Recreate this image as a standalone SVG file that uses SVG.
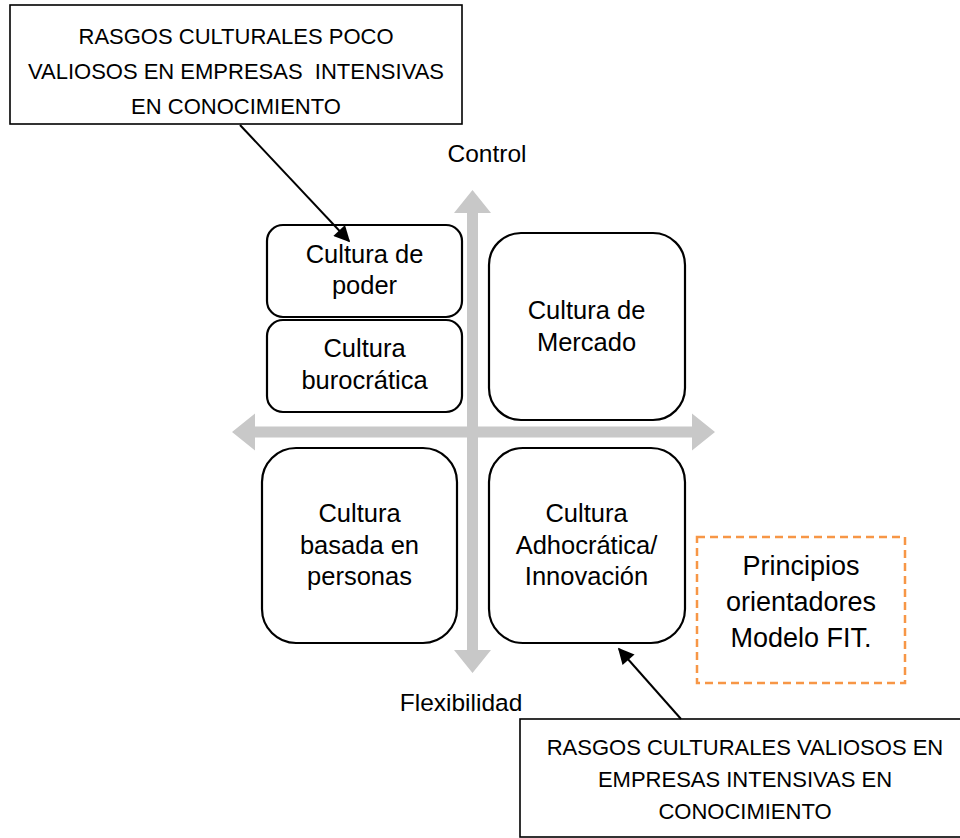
<svg xmlns="http://www.w3.org/2000/svg" width="960" height="838" viewBox="0 0 960 838">
  <style>
    text { font-family: "Liberation Sans", Arial, sans-serif; fill: #000; text-anchor: middle; }
    .caps { font-size: 22px; white-space: pre; }
    .q { font-size: 25.5px; }
    .axis { font-size: 24.5px; }
    .fit { font-size: 27px; }
    .note { fill: #fff; stroke: #000; stroke-width: 1.6; }
    .quad { fill: #fff; stroke: #000; stroke-width: 2.2; }
    .dashed { fill: #fff; stroke: #f79646; stroke-width: 2.5; stroke-dasharray: 8 5; }
    .axisbar { fill: #c8c8c8; }
    .link { stroke: #000; stroke-width: 2; fill: none; marker-end: url(#head); }
  </style>
  <defs>
    <marker id="head" viewBox="0 0 10 10" refX="9" refY="5" markerWidth="9" markerHeight="8" markerUnits="strokeWidth" orient="auto">
      <path d="M0,0 L10,5 L0,10 z" fill="#000"/>
    </marker>
  </defs>
  <rect width="960" height="838" fill="#fff"/>

  <!-- axes: control / flexibility -->
  <g id="axes">
    <polygon class="axisbar" points="472.5,190 491,213 478,213 478,650 491,650 472.5,673 454,650 467,650 467,213 454,213"/>
    <polygon class="axisbar" points="232,432 255,413.5 255,426.5 692,426.5 692,413.5 715,432 692,450.5 692,437.5 255,437.5 255,450.5"/>
    <text class="axis" x="487" y="162">Control</text>
    <text class="axis" x="461" y="711">Flexibilidad</text>
  </g>

  <g id="poder">
    <rect class="quad" x="267" y="225" width="195" height="92" rx="16"/>
    <text class="q" x="364.5" y="263">Cultura de</text>
    <text class="q" x="364.5" y="293.5">poder</text>
  </g>

  <g id="burocratica">
    <rect class="quad" x="267" y="320" width="195" height="92" rx="16"/>
    <text class="q" x="364.5" y="357">Cultura</text>
    <text class="q" x="364.5" y="388.5">burocrática</text>
  </g>

  <g id="mercado">
    <rect class="quad" x="489" y="233" width="196" height="187" rx="32"/>
    <text class="q" x="586.5" y="318.5">Cultura de</text>
    <text class="q" x="586.5" y="350.5">Mercado</text>
  </g>

  <g id="personas">
    <rect class="quad" x="262" y="448" width="195" height="195" rx="34"/>
    <text class="q" x="359.5" y="522">Cultura</text>
    <text class="q" x="359.5" y="553.5">basada en</text>
    <text class="q" x="359.5" y="585">personas</text>
  </g>

  <g id="adhocratica">
    <rect class="quad" x="489" y="448" width="196" height="195" rx="34"/>
    <text class="q" x="586.5" y="522">Cultura</text>
    <text class="q" x="586.5" y="553.5">Adhocrática/</text>
    <text class="q" x="586.5" y="585">Innovación</text>
  </g>

  <g id="principios">
    <rect class="dashed" x="697" y="537" width="208" height="146"/>
    <text class="fit" x="801" y="575">Principios</text>
    <text class="fit" x="801" y="611">orientadores</text>
    <text class="fit" x="801" y="647">Modelo FIT.</text>
  </g>

  <g id="rasgos-poco-valiosos">
    <rect class="note" x="10" y="5" width="452" height="119"/>
    <text class="caps" x="236" y="43.5">RASGOS CULTURALES POCO</text>
    <text class="caps" x="236" y="78.5">VALIOSOS EN EMPRESAS  INTENSIVAS</text>
    <text class="caps" x="236" y="113.5">EN CONOCIMIENTO</text>
  </g>

  <g id="rasgos-valiosos">
    <rect class="note" x="520" y="719" width="450" height="118"/>
    <text class="caps" x="745" y="755">RASGOS CULTURALES VALIOSOS EN</text>
    <text class="caps" x="745" y="787">EMPRESAS INTENSIVAS EN</text>
    <text class="caps" x="745" y="819">CONOCIMIENTO</text>
  </g>

  <g id="connectors">
    <line class="link" x1="240" y1="125" x2="349" y2="241"/>
    <line class="link" x1="681" y1="719" x2="619" y2="649"/>
  </g>
</svg>
